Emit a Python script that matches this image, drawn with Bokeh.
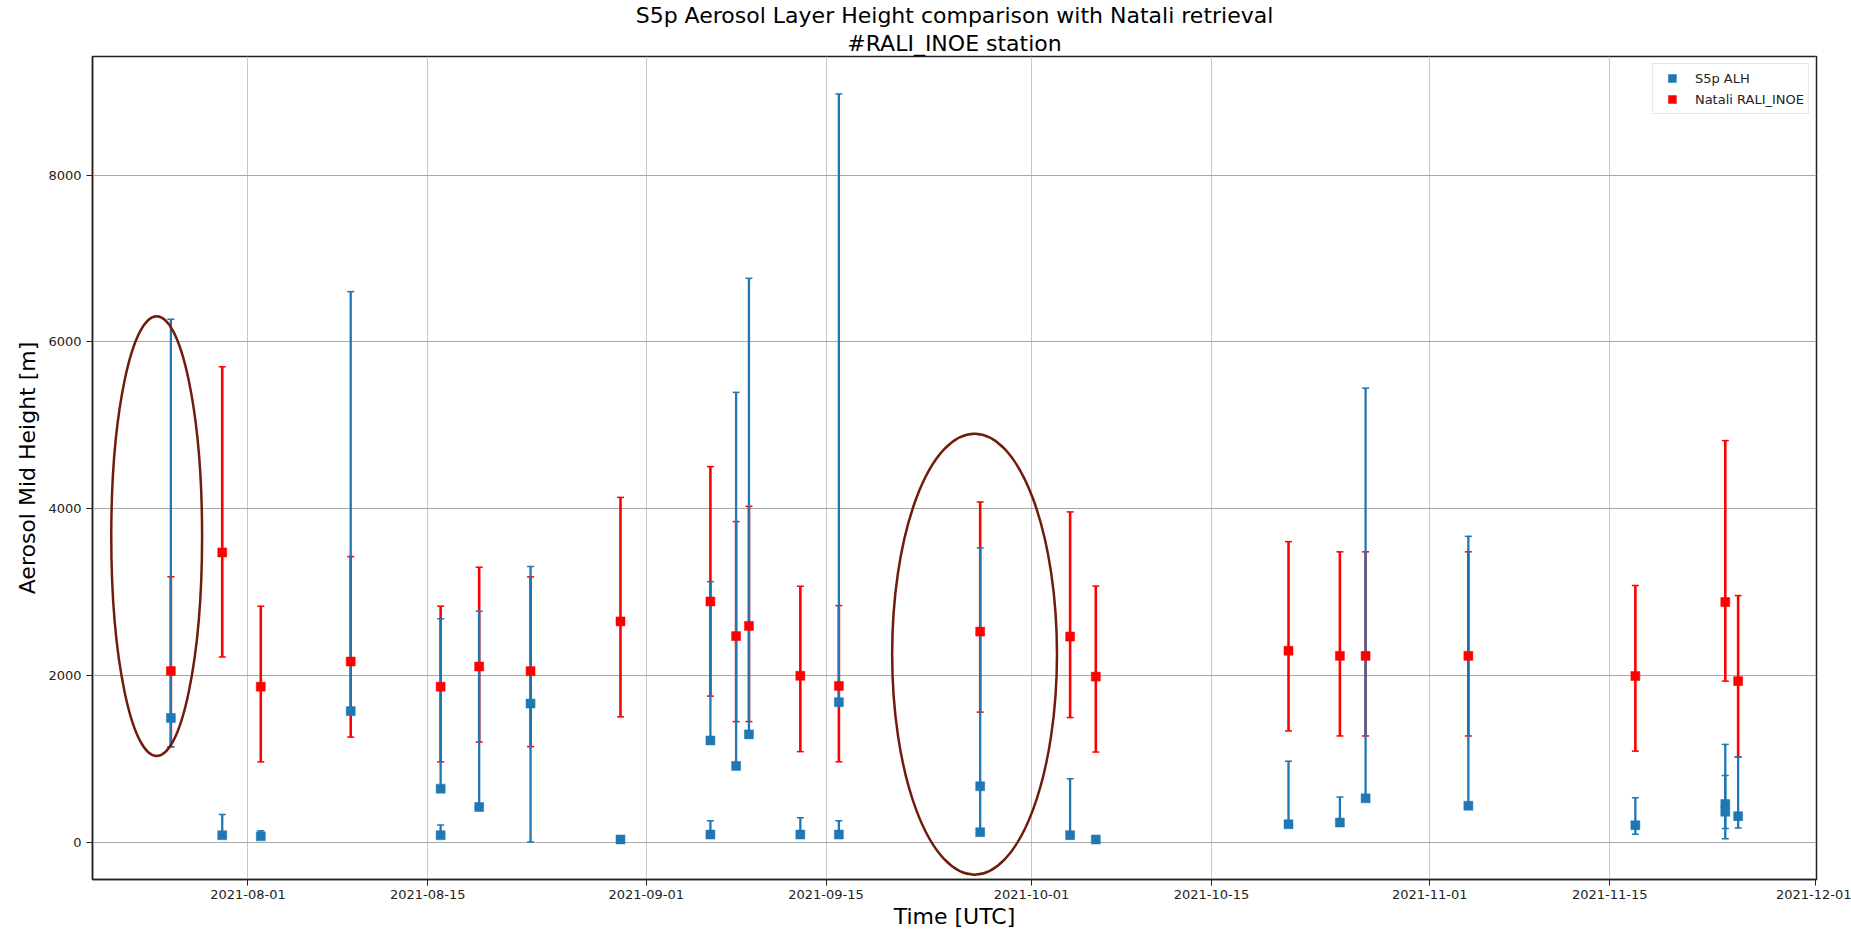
import pandas as pd
from bokeh.plotting import figure
from bokeh.models import (ColumnDataSource, FixedTicker, DatetimeTickFormatter,
                          Legend, LegendItem, Title, Range1d)
from bokeh.embed import file_html
from bokeh.resources import INLINE

FONT = "DejaVu Sans"

# Sentinel-5P Aerosol Layer Height retrievals [m]: value and bar bounds
s5p_dates = ["2021-07-26", "2021-07-30", "2021-08-02", "2021-08-09", "2021-08-16",
             "2021-08-16", "2021-08-19", "2021-08-23", "2021-08-30", "2021-09-06",
             "2021-09-06", "2021-09-08", "2021-09-09", "2021-09-13", "2021-09-16",
             "2021-09-16", "2021-09-27", "2021-09-27", "2021-10-04", "2021-10-06",
             "2021-10-21", "2021-10-25", "2021-10-27", "2021-11-04", "2021-11-17",
             "2021-11-24", "2021-11-24", "2021-11-25"]
s5p_alh = [1488, 82, 69, 1571, 641, 82, 421, 1662, 32, 1219, 90, 914, 1292, 90,
           1678, 90, 669, 119, 83, 31, 214, 234, 525, 436, 202, 457, 364, 311]
s5p_low = [1145, 82, 69, 1571, 641, 82, 421, 0, 32, 1219, 90, 914, 1292, 90,
           1678, 90, 669, 119, 83, 31, 214, 234, 525, 436, 93, 40, 162, 170]
s5p_high = [6273, 330, 137, 6603, 2679, 206, 2770, 3306, 32, 3124, 255, 5395, 6763, 292,
            8975, 255, 3529, 669, 761, 31, 970, 541, 5446, 3668, 533, 1172, 800, 1022]

# Natali retrieval at the RALI_INOE lidar station [m]
natali_dates = ["2021-07-26", "2021-07-30", "2021-08-02", "2021-08-09", "2021-08-16",
                "2021-08-19", "2021-08-23", "2021-08-30", "2021-09-06", "2021-09-08",
                "2021-09-09", "2021-09-13", "2021-09-16", "2021-09-27", "2021-10-04",
                "2021-10-06", "2021-10-21", "2021-10-25", "2021-10-27", "2021-11-04",
                "2021-11-17", "2021-11-24", "2021-11-25"]
natali_mid = [2051, 3475, 1864, 2166, 1864, 2106, 2051, 2647, 2886, 2471, 2593, 1995,
              1873, 2525, 2465, 1985, 2295, 2234, 2234, 2234, 1992, 2880, 1931]
natali_low = [1145, 2221, 962, 1259, 962, 1200, 1145, 1502, 1751, 1445, 1445, 1085,
              963, 1559, 1494, 1080, 1333, 1273, 1273, 1273, 1091, 1931, 1022]
natali_high = [3182, 5701, 2830, 3425, 2830, 3297, 3182, 4135, 4504, 3845, 4028, 3069,
               2837, 4080, 3961, 3071, 3604, 3482, 3482, 3482, 3078, 4816, 2957]

# Highlighted cases (centre time, centre height, width in days, height in m)
mark_centres = ["2021-07-24 21:30", "2021-09-26 13:30"]
mark_heights = [3670, 2254]
mark_width_days = [7.07, 12.83]
mark_height_m = [5277, 5289]

x_tick_dates = ["2021-08-01", "2021-08-15", "2021-09-01", "2021-09-15", "2021-10-01",
                "2021-10-15", "2021-11-01", "2021-11-15", "2021-12-01"]
y_ticks = [0, 2000, 4000, 6000, 8000]

BLUE = "#1f77b4"
RED = "#ff0000"
RING = "#701c0c"

s5p = ColumnDataSource(dict(date=pd.to_datetime(s5p_dates), alh=s5p_alh,
                            low=s5p_low, high=s5p_high))
nat = ColumnDataSource(dict(date=pd.to_datetime(natali_dates), mid=natali_mid,
                            low=natali_low, high=natali_high))

# axis limits with 5% margins around the data, as an autoscaled axis would
all_dates = pd.to_datetime(s5p_dates + natali_dates)
dspan = all_dates.max() - all_dates.min()
x_start = all_dates.min() - 0.05 * dspan
x_end = all_dates.max() + 0.05 * dspan
vmin = min(min(s5p_low), min(natali_low))
vmax = max(max(s5p_high), max(natali_high))
vspan = vmax - vmin
y_start = vmin - 0.05 * vspan
y_end = vmax + 0.05 * vspan

p = figure(width=1851, height=931, x_axis_type="datetime",
           x_range=Range1d(x_start, x_end), y_range=Range1d(y_start, y_end),
           output_backend="svg", toolbar_location=None,
           title="S5p Aerosol Layer Height comparison with Natali retrieval",
           min_border_left=92, min_border_right=35, min_border_top=55,
           min_border_bottom=51)

p.title.text_font = FONT
p.title.text_font_size = "22px"
p.title.text_font_style = "normal"
p.title.text_color = "black"
p.title.align = "center"
p.title.standoff = 0
p.add_layout(Title(text="#RALI_INOE station",
                   text_font=FONT, text_font_size="22px", text_font_style="normal",
                   text_color="black", align="center", standoff=2), "above")

# error bars: lidar first, satellite bars over them, markers on top
cap_size = 7
p.segment(x0="date", y0="low", x1="date", y1="high", source=nat,
          line_color=RED, line_width=2.6)
p.scatter(x="date", y="low", source=nat, marker="dash", size=cap_size,
          line_color=RED, line_width=1.5)
p.scatter(x="date", y="high", source=nat, marker="dash", size=cap_size,
          line_color=RED, line_width=1.5)

p.segment(x0="date", y0="low", x1="date", y1="high", source=s5p,
          line_color=BLUE, line_width=2.3)
p.scatter(x="date", y="low", source=s5p, marker="dash", size=cap_size,
          line_color=BLUE, line_width=1.5)
p.scatter(x="date", y="high", source=s5p, marker="dash", size=cap_size,
          line_color=BLUE, line_width=1.5)

blue_sq = p.scatter(x="date", y="alh", source=s5p, marker="square", size=9,
                    fill_color=BLUE, line_color=BLUE, line_width=0.5)
red_sq = p.scatter(x="date", y="mid", source=nat, marker="square", size=9,
                   fill_color=RED, line_color=RED, line_width=0.5)

rings = ColumnDataSource(dict(
    x=pd.to_datetime(mark_centres), y=mark_heights,
    w=[d * 86400000 for d in mark_width_days], h=mark_height_m))
p.ellipse(x="x", y="y", width="w", height="h", source=rings,
          fill_color=None, line_color=RING, line_width=2.5)

# axes
tick_ms = list((pd.to_datetime(x_tick_dates) - pd.Timestamp("1970-01-01"))
               // pd.Timedelta(milliseconds=1))
p.xaxis.ticker = FixedTicker(ticks=tick_ms)
fmt = "%Y-%m-%d"
p.xaxis.formatter = DatetimeTickFormatter(
    milliseconds=fmt, seconds=fmt, minsec=fmt, minutes=fmt, hourmin=fmt,
    hours=fmt, days=fmt, months=fmt, years=fmt)
p.yaxis.ticker = FixedTicker(ticks=y_ticks)

p.xaxis.axis_label = "Time [UTC]"
p.yaxis.axis_label = "Aerosol Mid Height [m]"
for ax in (p.xaxis[0], p.yaxis[0]):
    ax.axis_label_text_font = FONT
    ax.axis_label_text_font_size = "22px"
    ax.axis_label_text_font_style = "normal"
    ax.axis_label_text_color = "black"
    ax.major_label_text_font = FONT
    ax.major_label_text_font_size = "13px"
    ax.major_label_text_color = "#222222"
    ax.major_tick_out = 6
    ax.major_tick_in = 0
    ax.major_tick_line_color = "#222222"
    ax.minor_tick_line_color = None
    ax.axis_line_color = "#222222"
    ax.axis_line_width = 1.5
p.xaxis.major_label_standoff = 4
p.xaxis.axis_label_standoff = 2
p.yaxis.major_label_standoff = 5
p.yaxis.axis_label_standoff = 5

p.xgrid.grid_line_color = "#c8c8c8"
p.ygrid.grid_line_color = "#a8a8a8"
p.xgrid.grid_line_width = 1
p.ygrid.grid_line_width = 1

p.outline_line_color = "#222222"
p.outline_line_width = 1.5
p.outline_line_alpha = 1
p.background_fill_color = "white"
p.border_fill_color = "white"

legend = Legend(items=[LegendItem(label="S5p ALH", renderers=[blue_sq]),
                       LegendItem(label="Natali RALI_INOE", renderers=[red_sq])],
                location="top_right", margin=7, padding=4, spacing=1,
                glyph_width=30, glyph_height=20, label_height=20, label_standoff=8,
                label_text_font=FONT, label_text_font_size="13px",
                label_text_color="#222222",
                border_line_color="#cccccc", border_line_width=1,
                background_fill_color="white", background_fill_alpha=0.85)
p.add_layout(legend)

open("out.html", "w").write(file_html(p, INLINE))
